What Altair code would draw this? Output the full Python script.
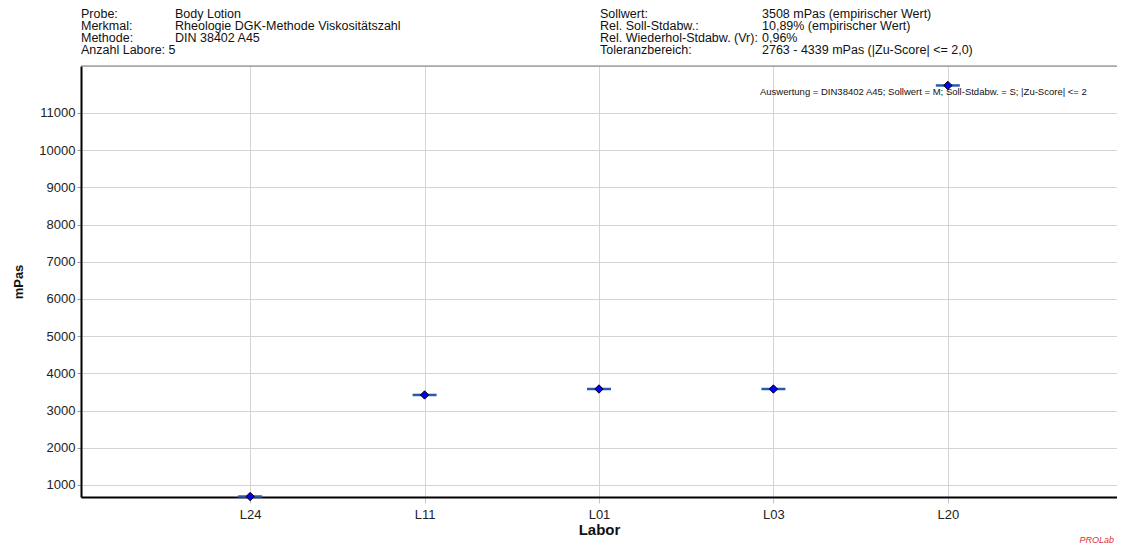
import altair as alt
import pandas as pd

labs = ["L24", "L11", "L01", "L03", "L20"]
values = [690, 3420, 3580, 3580, 11740]

left_labels = ["Probe:", "Merkmal:", "Methode:", "Anzahl Labore: 5"]
left_values = ["Body Lotion", "Rheologie DGK-Methode Viskositätszahl", "DIN 38402 A45", ""]
right_labels = ["Sollwert:", "Rel. Soll-Stdabw.:", "Rel. Wiederhol-Stdabw. (Vr):", "Toleranzbereich:"]
right_values = ["3508 mPas (empirischer Wert)", "10,89% (empirischer Wert)", "0,96%", "2763 - 4339 mPas (|Zu-Score| <= 2,0)"]
yticks = [1000, 2000, 3000, 4000, 5000, 6000, 7000, 8000, 9000, 10000, 11000]

df = pd.DataFrame({"Labor": labs, "mPas": values})
FONT = "Liberation Sans"
W = 1036

x = alt.X("Labor:N", sort=labs, title="Labor",
          scale=alt.Scale(type="point", padding=0.97),
          axis=alt.Axis(labelAngle=0, labelFont=FONT, labelFontSize=13, labelColor="#222",
                        titleFont=FONT, titleFontSize=15, titleFontWeight="bold", titleColor="#111",
                        titlePadding=1, labelPadding=5, grid=True,
                        domainColor="black", domainWidth=2, tickColor="#c8c8c8", tickSize=6,
                        gridColor="#d4d4d4", gridWidth=1))
y = alt.Y("mPas:Q", title="mPas",
          scale=alt.Scale(domain=[677, 12263], nice=False, zero=False),
          axis=alt.Axis(values=yticks, format="d", labelFont=FONT, labelFontSize=13, labelColor="#222",
                        titleFont=FONT, titleFontSize=13, titleFontWeight="bold", titleColor="#111",
                        titlePadding=13, domainColor="black", domainWidth=2,
                        tickColor="#999", tickSize=4, gridColor="#d4d4d4", gridWidth=1))

base = alt.Chart(df)
ticks = base.mark_tick(color="#2a5aa8", size=24, thickness=2.5, opacity=1).encode(x=x, y=y)
pts = base.mark_point(shape="diamond", filled=True, fill="#0000ff", stroke="black",
                      strokeWidth=1, size=70, opacity=1).encode(x=x, y=y)

def txt(lines, xpos, ys):
    d = pd.DataFrame({"t": lines, "yy": ys})
    return alt.Chart(d).mark_text(align="left", baseline="middle", font=FONT, fontSize=12.5,
                                  color="#111").encode(
        x=alt.value(xpos), y=alt.Y("yy:Q", scale=None), text="t:N")

ys = [-52, -40, -28, -16]
h1 = txt(left_labels, 0, ys)
h2 = txt(left_values, 94, ys)
h3 = txt(right_labels, 519, ys)
h4 = txt(right_values, 681, ys)

ausw = alt.Chart(pd.DataFrame({"t": ["Auswertung = DIN38402 A45; Sollwert = M; Soll-Stdabw. = S; |Zu-Score| <= 2"]})).mark_text(
    align="left", baseline="middle", font=FONT, fontSize=9.5, color="#111").encode(
    x=alt.value(679), y=alt.value(26), text="t:N")
prolab = alt.Chart(pd.DataFrame({"t": ["PROLab"]})).mark_text(
    align="right", baseline="middle", font=FONT, fontSize=9, fontStyle="italic", color="#e03030").encode(
    x=alt.value(W - 3), y=alt.value(474), text="t:N")
topline = alt.Chart(pd.DataFrame({"a": [0]})).mark_rule(color="#777", strokeWidth=1).encode(
    x=alt.value(0), x2=alt.value(W), y=alt.value(0))

chart = alt.layer(ticks, pts, h1, h2, h3, h4, ausw, prolab, topline).properties(
    width=W, height=431,
    autosize=alt.AutoSizeParams(type="none"),
    padding={"left": 73, "top": 58, "right": 0, "bottom": 48},
).configure_view(stroke=None).configure(background="white")

chart.save("out.html", embed_options={"renderer": "svg", "actions": False})
